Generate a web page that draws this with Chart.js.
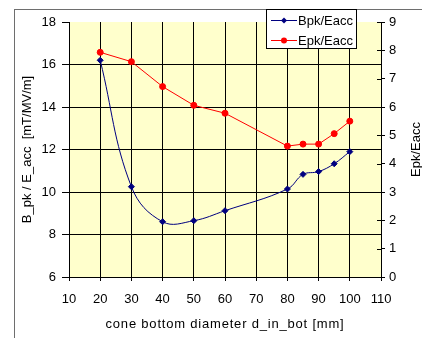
<!DOCTYPE html>
<html>
<head>
<meta charset="utf-8">
<script src="https://cdn.jsdelivr.net/npm/chart.js@4/dist/chart.umd.min.js"></script>
<style>
  html, body { margin: 0; padding: 0; background: #ffffff; }
  canvas { display: block; }
</style>
</head>
<body>
<canvas id="c" width="422" height="338"></canvas>
<script>
// Cone bottom diameter d_in_bot [mm]
const diameters = [20, 30, 40, 50, 60, 80, 85, 90, 95, 100];
// Peak magnetic field ratio B_pk / E_acc [mT/(MV/m)] (left axis)
const bpkEacc = [16.2, 10.25, 8.6, 8.65, 9.12, 10.14, 10.83, 10.96, 11.33, 11.9];
// Peak electric field ratio E_pk / E_acc (right axis)
const epkEacc = [7.93, 7.6, 6.72, 6.06, 5.78, 4.62, 4.69, 4.69, 5.06, 5.5];

const xTicks = [10, 20, 30, 40, 50, 60, 70, 80, 90, 100, 110];
const leftTicks = [6, 8, 10, 12, 14, 16, 18];
const rightTicks = [0, 1, 2, 3, 4, 5, 6, 7, 8, 9];

const seriesNames = ['Bpk/Eacc', 'Epk/Eacc'];
const xTitle = 'cone bottom diameter d_in_bot [mm]';
const leftTitle = 'B_pk / E_acc  [mT/MV/m]';
const rightTitle = 'Epk/Eacc';

const FONT = 'Liberation Sans, Arial, sans-serif';
const BLUE = '#000080';
const RED = '#ff0000';

const toPoints = (xs, ys) => xs.map((x, i) => ({ x: x, y: ys[i] }));

// Frame, plot background, inner ticks of the right axis, axis titles and legend
const decorations = {
  id: 'decorations',
  beforeDraw(chart) {
    const { ctx, chartArea: a } = chart;
    ctx.save();
    ctx.fillStyle = '#ffffcc';
    ctx.fillRect(a.left, a.top, a.right - a.left, a.bottom - a.top);
    ctx.strokeStyle = '#6e6e6e';
    ctx.lineWidth = 1;
    ctx.strokeRect(14.5, 9.5, 600, 600);
    ctx.restore();
  },
  afterDatasetsDraw(chart) {
    const { ctx, chartArea: a, scales } = chart;
    ctx.save();
    // inner tick marks on the secondary axis
    ctx.strokeStyle = '#000';
    ctx.lineWidth = 1;
    ctx.beginPath();
    rightTicks.forEach(v => {
      const y = Math.round(scales.y1.getPixelForValue(v)) + 0.5;
      ctx.moveTo(a.right - 4, y);
      ctx.lineTo(a.right, y);
    });
    ctx.stroke();

    // horizontal axis title, slightly tracked
    ctx.fillStyle = '#000';
    ctx.font = '13px ' + FONT;
    ctx.textAlign = 'center';
    ctx.textBaseline = 'middle';
    if ('letterSpacing' in ctx) ctx.letterSpacing = '0.8px';
    ctx.fillText(xTitle, (a.left + a.right) / 2, 324);
    if ('letterSpacing' in ctx) ctx.letterSpacing = '0px';

    // secondary axis title, reading upwards
    ctx.translate(416, (a.top + a.bottom) / 2);
    ctx.rotate(-Math.PI / 2);
    ctx.fillText(rightTitle, 0, 0);
    ctx.restore();

    // legend box
    ctx.save();
    const bx = 266.5, by = 9.5, bw = 90, bh = 39;
    ctx.fillStyle = '#ffffff';
    ctx.fillRect(bx, by, bw, bh);
    ctx.strokeStyle = '#000';
    ctx.lineWidth = 1;
    ctx.strokeRect(bx, by, bw, bh);
    chart.data.datasets.forEach((ds, i) => {
      const y = 20.5 + i * 20;
      ctx.strokeStyle = ds.borderColor;
      ctx.lineWidth = 1;
      ctx.beginPath();
      ctx.moveTo(271, y);
      ctx.lineTo(297, y);
      ctx.stroke();
      ctx.fillStyle = ds.pointBackgroundColor;
      ctx.beginPath();
      if (ds.pointStyle === 'rectRot') {
        const r = ds.pointRadius;
        ctx.moveTo(284, y - r);
        ctx.lineTo(284 + r, y);
        ctx.lineTo(284, y + r);
        ctx.lineTo(284 - r, y);
        ctx.closePath();
      } else {
        ctx.arc(284, y, ds.pointRadius, 0, Math.PI * 2);
      }
      ctx.fill();
      ctx.fillStyle = '#000';
      ctx.font = '13px ' + FONT;
      ctx.textAlign = 'left';
      ctx.textBaseline = 'middle';
      ctx.fillText(ds.label, 298, y + 0.5);
    });
    ctx.restore();
  }
};

new Chart(document.getElementById('c'), {
  type: 'line',
  data: {
    datasets: [
      {
        label: seriesNames[0],
        data: toPoints(diameters, bpkEacc),
        yAxisID: 'y',
        borderColor: BLUE,
        backgroundColor: BLUE,
        pointBackgroundColor: BLUE,
        pointBorderColor: BLUE,
        pointStyle: 'rectRot',
        pointRadius: 3,
        borderWidth: 1,
        tension: 0.4,
        fill: false
      },
      {
        label: seriesNames[1],
        data: toPoints(diameters, epkEacc),
        yAxisID: 'y1',
        borderColor: RED,
        backgroundColor: RED,
        pointBackgroundColor: RED,
        pointBorderColor: RED,
        pointStyle: 'circle',
        pointRadius: 3,
        borderWidth: 1,
        tension: 0,
        fill: false
      }
    ]
  },
  options: {
    responsive: false,
    animation: false,
    devicePixelRatio: 1,
    layout: { padding: { top: 22, right: 0, bottom: 0, left: 0 } },
    plugins: { legend: { display: false }, tooltip: { enabled: false } },
    scales: {
      x: {
        type: 'linear',
        position: 'bottom',
        min: xTicks[0],
        max: xTicks[xTicks.length - 1],
        afterBuildTicks: s => { s.ticks = xTicks.map(v => ({ value: v })); },
        afterFit: s => { s.height = 61; },
        grid: { color: '#000', tickColor: '#000', tickLength: 4, lineWidth: 1 },
        border: { color: '#000', width: 1 },
        ticks: { color: '#000', font: { family: FONT, size: 13 }, padding: 11, maxRotation: 0 },
        title: { display: false }
      },
      y: {
        type: 'linear',
        position: 'left',
        min: leftTicks[0],
        max: leftTicks[leftTicks.length - 1],
        afterBuildTicks: s => { s.ticks = leftTicks.map(v => ({ value: v })); },
        afterFit: s => { s.width = 69; },
        grid: {
          color: c => (c.tick && c.tick.value === leftTicks[leftTicks.length - 1]) ? 'rgba(0,0,0,0)' : '#000',
          tickColor: '#000', tickLength: 7, lineWidth: 1
        },
        border: { color: '#000', width: 1 },
        ticks: { color: '#000', font: { family: FONT, size: 13 }, padding: 6 },
        title: {
          display: true, text: leftTitle, color: '#000',
          font: { family: FONT, size: 13 }, padding: { top: 20, bottom: 0 }
        }
      },
      y1: {
        type: 'linear',
        position: 'right',
        min: rightTicks[0],
        max: rightTicks[rightTicks.length - 1],
        afterBuildTicks: s => { s.ticks = rightTicks.map(v => ({ value: v })); },
        afterFit: s => { s.width = 41; },
        grid: { drawOnChartArea: false, color: '#000', tickColor: '#000', tickLength: 4, lineWidth: 1 },
        border: { color: '#000', width: 1 },
        ticks: { color: '#000', font: { family: FONT, size: 13 }, padding: 4 }
      }
    }
  },
  plugins: [decorations]
});
</script>
</body>
</html>
